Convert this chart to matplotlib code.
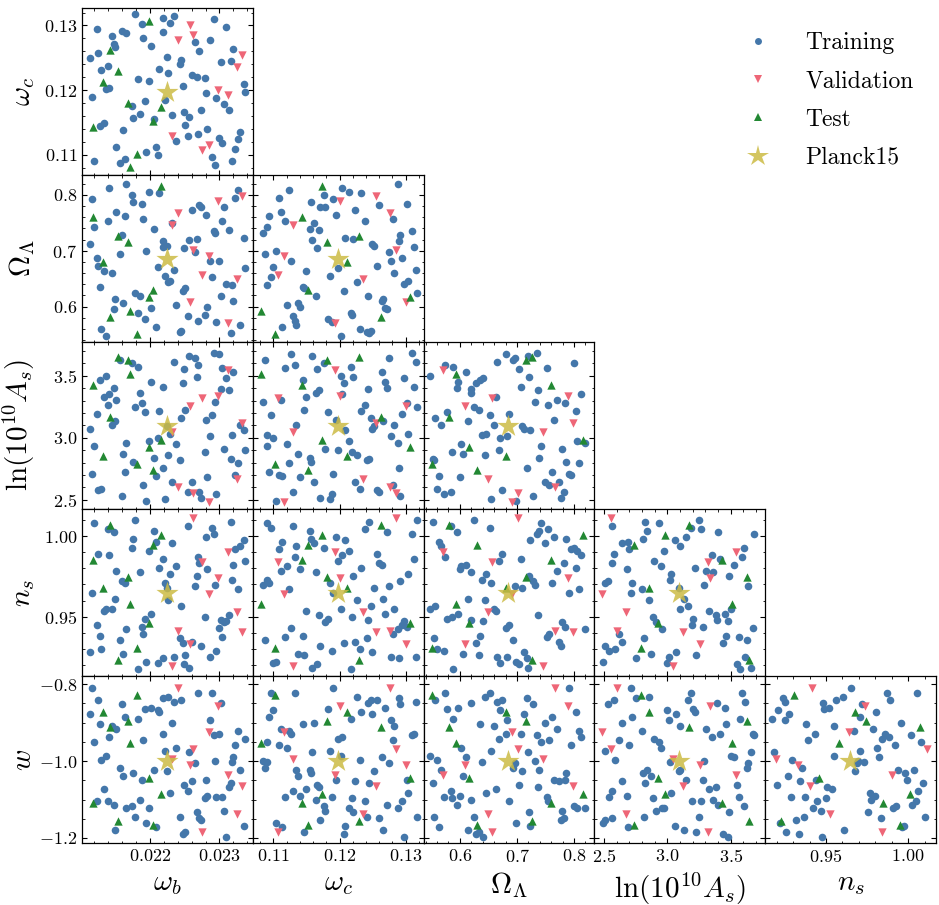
import matplotlib
matplotlib.use('Agg')
import matplotlib.pyplot as plt
from matplotlib.ticker import AutoMinorLocator, MultipleLocator
from matplotlib.lines import Line2D

# parameter labels, axis limits and major tick steps
labels = [r'$\omega_b$', r'$\omega_c$', r'$\Omega_\Lambda$', r'$\ln(10^{10}A_s)$', r'$n_s$', r'$w$']
limits = [(0.02102, 0.02348), (0.1069, 0.1327), (0.5364, 0.8357),
          (2.425, 3.772), (0.913, 1.017), (-1.213, -0.779)]
steps = [0.001, 0.01, 0.1, 0.5, 0.05, 0.2]

# training set
train_ob = [0.02113, 0.02116, 0.02120, 0.02123, 0.02125, 0.02128, 0.02130, 0.02133, 0.02136, 0.02139,
            0.02141, 0.02145, 0.02148, 0.02150, 0.02151, 0.02157, 0.02159, 0.02161, 0.02164, 0.02166,
            0.02174, 0.02176, 0.02179, 0.02183, 0.02186, 0.02188, 0.02190, 0.02193, 0.02194, 0.02199,
            0.02201, 0.02206, 0.02208, 0.02211, 0.02213, 0.02218, 0.02219, 0.02221, 0.02224, 0.02226,
            0.02229, 0.02231, 0.02234, 0.02238, 0.02243, 0.02244, 0.02247, 0.02249, 0.02251, 0.02254,
            0.02256, 0.02260, 0.02265, 0.02267, 0.02269, 0.02271, 0.02273, 0.02279, 0.02280, 0.02282,
            0.02287, 0.02289, 0.02292, 0.02293, 0.02295, 0.02300, 0.02302, 0.02304, 0.02307, 0.02310,
            0.02314, 0.02316, 0.02318, 0.02320, 0.02323, 0.02327, 0.02330, 0.02335, 0.02337]
train_oc = [0.1249, 0.1190, 0.1090, 0.1295, 0.1257, 0.1145, 0.1231, 0.1149, 0.1202, 0.1238,
            0.1204, 0.1283, 0.1272, 0.1266, 0.1112, 0.1087, 0.1292, 0.1138, 0.1094, 0.1288,
            0.1176, 0.1157, 0.1317, 0.1217, 0.1164, 0.1302, 0.1281, 0.1183, 0.1104, 0.1214,
            0.1269, 0.1155, 0.1113, 0.1100, 0.1233, 0.1290, 0.1312, 0.1185, 0.1252, 0.1226,
            0.1304, 0.1161, 0.1315, 0.1121, 0.1241, 0.1247, 0.1207, 0.1166, 0.1147, 0.1130,
            0.1159, 0.1223, 0.1274, 0.1221, 0.1132, 0.1260, 0.1170, 0.1219, 0.1195, 0.1140,
            0.1278, 0.1097, 0.1310, 0.1085, 0.1188, 0.1126, 0.1243, 0.1118, 0.1178, 0.1298,
            0.1169, 0.1245, 0.1091, 0.1264, 0.1109, 0.1124, 0.1135, 0.1209, 0.1197]
train_ol = [0.7125, 0.7919, 0.7430, 0.6869, 0.6731, 0.6355, 0.5591, 0.6630, 0.5478, 0.7537,
            0.8116, 0.6600, 0.5949, 0.6140, 0.7698, 0.6934, 0.7287, 0.6057, 0.7615, 0.8194,
            0.8003, 0.7866, 0.6242, 0.5884, 0.6194, 0.7836, 0.7561, 0.5776, 0.6988, 0.8057,
            0.5973, 0.7394, 0.5639, 0.6707, 0.8027, 0.7179, 0.7072, 0.6546, 0.7090, 0.6433,
            0.6463, 0.7490, 0.6654, 0.6027, 0.5549, 0.5567, 0.6284, 0.7042, 0.6331, 0.5836,
            0.7197, 0.7728, 0.6970, 0.7209, 0.5746, 0.7818, 0.7776, 0.5854, 0.7645, 0.5997,
            0.6821, 0.6522, 0.7346, 0.7316, 0.5728, 0.6809, 0.6188, 0.7525, 0.7782, 0.6403,
            0.7370, 0.5525, 0.6391, 0.6104, 0.7943, 0.8087, 0.5669, 0.7233, 0.6690]
train_as = [3.067, 2.711, 2.933, 3.193, 2.578, 3.465, 2.586, 3.326, 3.500, 3.265,
            3.350, 3.099, 3.398, 3.134, 3.305, 3.626, 2.529, 2.872, 2.725, 2.957,
            3.602, 2.805, 3.246, 3.572, 3.361, 3.278, 2.618, 3.206, 2.492, 2.971,
            3.452, 2.837, 2.690, 2.997, 3.217, 2.757, 3.412, 2.505, 3.094, 2.858,
            3.032, 2.644, 3.612, 2.947, 2.818, 3.160, 3.439, 3.551, 3.227, 2.564,
            3.660, 2.644, 3.639, 3.487, 3.588, 2.564, 2.511, 2.885, 3.144, 2.684,
            3.013, 3.187, 3.685, 3.291, 2.543, 3.674, 3.393, 3.564, 2.912, 3.479,
            3.385, 2.826, 3.021, 3.527, 2.698, 2.797, 3.099, 3.064, 2.898]
train_ns = [0.9277, 0.9650, 1.0081, 0.9448, 0.9892, 0.9381, 0.9296, 0.9535, 0.9548, 1.0046,
            0.9881, 0.9546, 1.0025, 0.9608, 0.9785, 0.9352, 0.9719, 0.9269, 0.9708, 0.9421,
            0.9927, 0.9983, 1.0100, 0.9171, 0.9775, 0.9438, 0.9390, 0.9488, 0.9219, 0.9910,
            0.9517, 1.0033, 0.9965, 0.9208, 0.9802, 0.9240, 0.9860, 0.9708, 0.9677, 0.9604,
            0.9767, 0.9958, 0.9250, 0.9813, 0.9369, 0.9563, 0.9333, 0.9202, 0.9258, 1.0062,
            0.9181, 0.9344, 0.9692, 0.9754, 0.9871, 0.9833, 0.9317, 0.9500, 0.9996, 0.9796,
            0.9250, 1.0052, 1.0015, 0.9698, 0.9286, 0.9431, 0.9479, 0.9375, 0.9469, 0.9475,
            0.9508, 1.0090, 0.9729, 0.9823, 0.9921, 0.9671, 0.9938, 0.9975, 0.9844]
train_w = [-0.878, -0.809, -0.950, -1.103, -0.842, -0.905, -0.998, -1.072, -0.987, -1.105,
           -0.937, -0.910, -1.113, -1.178, -0.916, -1.017, -0.853, -1.040, -0.885, -1.122,
           -1.118, -1.031, -1.146, -0.890, -1.101, -1.049, -0.946, -0.866, -1.162, -1.121,
           -0.862, -1.024, -1.172, -0.868, -0.872, -0.837, -0.929, -0.975, -1.026, -0.833,
           -1.082, -0.901, -0.846, -0.966, -1.146, -0.842, -1.190, -1.061, -1.185, -1.078,
           -0.977, -1.052, -1.004, -1.133, -0.822, -1.148, -1.153, -1.097, -1.050, -1.092,
           -0.894, -0.823, -0.933, -1.001, -1.094, -0.930, -0.850, -1.094, -1.131, -1.198,
           -1.068, -1.057, -1.003, -0.990, -0.959, -0.922, -1.024, -1.170, -0.943]

# validation set
val_ob = [0.02232, 0.02240, 0.02257, 0.02262, 0.02275, 0.02285, 0.02298, 0.02312, 0.02325, 0.02332]
val_oc = [0.1129, 0.1277, 0.1300, 0.1286, 0.1107, 0.1116, 0.1201, 0.1193, 0.1236, 0.1255]
val_ol = [0.7460, 0.7675, 0.6087, 0.7018, 0.6570, 0.6910, 0.7896, 0.5699, 0.6493, 0.7979]
val_as = [3.045, 2.604, 3.259, 2.556, 3.321, 2.484, 3.340, 3.545, 2.671, 3.120]
val_ns = [0.9194, 0.9413, 0.9327, 1.0115, 0.9840, 0.9640, 0.9740, 0.9900, 0.9527, 0.9402]
val_w = [-0.994, -0.811, -1.010, -0.970, -1.185, -0.924, -0.856, -1.037, -1.137, -1.065]

# test set
test_ob = [0.02118, 0.02132, 0.02143, 0.02154, 0.02168, 0.02171, 0.02181, 0.02198, 0.02204, 0.02216]
test_oc = [0.1143, 0.1212, 0.1262, 0.1229, 0.1181, 0.1081, 0.1102, 0.1307, 0.1152, 0.1174]
test_ol = [0.7597, 0.6803, 0.5806, 0.7269, 0.7161, 0.5925, 0.5508, 0.6164, 0.6302, 0.8164]
test_as = [3.428, 2.853, 3.171, 3.647, 3.626, 3.513, 2.791, 2.925, 2.738, 2.984]
test_ns = [0.9850, 0.9677, 1.0073, 0.9229, 0.9746, 0.9577, 0.9306, 0.9458, 0.9948, 1.0010]
test_w = [-1.110, -0.872, -0.911, -1.157, -0.896, -0.953, -0.829, -1.044, -1.166, -1.085]

# Planck15 fiducial
planck = [0.02225, 0.1198, 0.6844, 3.094, 0.9645, -1.0]

train = [train_ob, train_oc, train_ol, train_as, train_ns, train_w]
val = [val_ob, val_oc, val_ol, val_as, val_ns, val_w]
test = [test_ob, test_oc, test_ol, test_as, test_ns, test_w]

plt.rcParams.update({
    'font.family': 'serif',
    'font.serif': ['cmr10'],
    'mathtext.fontset': 'cm',
    'axes.formatter.use_mathtext': True,
    'axes.linewidth': 0.9,
    'xtick.direction': 'in', 'ytick.direction': 'in',
    'xtick.top': True, 'ytick.right': True,
    'xtick.minor.visible': True, 'ytick.minor.visible': True,
    'xtick.major.size': 3.5, 'ytick.major.size': 3.5,
    'xtick.minor.size': 1.8, 'ytick.minor.size': 1.8,
    'xtick.major.width': 0.8, 'ytick.major.width': 0.8,
    'xtick.minor.width': 0.6, 'ytick.minor.width': 0.6,
    'xtick.labelsize': 13, 'ytick.labelsize': 13,
    'axes.labelsize': 21,
})

c_train, c_val, c_test, c_planck = '#4477AA', '#EE6677', '#228833', '#CCBB44'

n = 5
fig, axes = plt.subplots(n, n, figsize=(9.39, 9.05), dpi=100)
fig.subplots_adjust(left=82/939, right=936/939, bottom=1-843/905, top=1-8/905,
                    wspace=0, hspace=0)

for i in range(n):
    for j in range(n):
        ax = axes[i, j]
        if j > i:
            ax.set_axis_off()
            continue
        px, py = j, i + 1
        ax.scatter(train[px], train[py], s=30, color=c_train, linewidths=0, zorder=2)
        ax.scatter(val[px], val[py], s=36, marker='v', color=c_val, linewidths=0, zorder=3)
        ax.scatter(test[px], test[py], s=36, marker='^', color=c_test, linewidths=0, zorder=3)
        ax.scatter([planck[px]], [planck[py]], s=280, marker='*', color=c_planck,
                   alpha=0.85, linewidths=0, zorder=4)
        ax.set_xlim(limits[px])
        ax.set_ylim(limits[py])
        ax.xaxis.set_major_locator(MultipleLocator(steps[px]))
        ax.yaxis.set_major_locator(MultipleLocator(steps[py]))
        ax.xaxis.set_minor_locator(AutoMinorLocator())
        ax.yaxis.set_minor_locator(AutoMinorLocator())
        if i == n - 1:
            ax.set_xlabel(labels[px], labelpad=4)
        else:
            ax.tick_params(labelbottom=False)
        if j == 0:
            ax.set_ylabel(labels[py], labelpad=1.5)
        else:
            ax.tick_params(labelleft=False)

fig.align_ylabels(axes[:, 0])
fig.align_xlabels(axes[-1, :])

handles = [
    Line2D([], [], ls='none', marker='o', ms=5, color=c_train, mew=0),
    Line2D([], [], ls='none', marker='v', ms=6, color=c_val, mew=0),
    Line2D([], [], ls='none', marker='^', ms=6, color=c_test, mew=0),
    Line2D([], [], ls='none', marker='*', ms=16, color=c_planck, alpha=0.85, mew=0),
]
fig.legend(handles, ['Training', 'Validation', 'Test', 'Planck15'],
           loc='upper left', bbox_to_anchor=(713/939, 0.988), frameon=False,
           fontsize=17, handletextpad=1.0, labelspacing=0.68)

fig.savefig('out.png', dpi=100)
